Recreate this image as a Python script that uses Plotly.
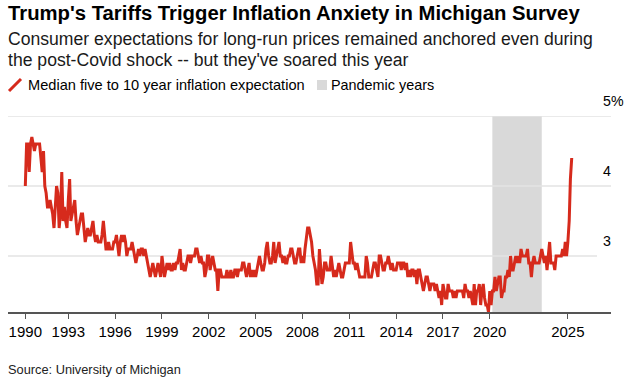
import pandas as pd
import plotly.graph_objects as go

# ---------------- data ----------------
start_month = "1990-04-01"
values_by_year = [
    [4.0, 4.6, 4.6, 4.2, 4.6, 4.7, 4.6, 4.5, 4.6],                      # 1990 (Apr-Dec)
    [4.6, 4.6, 4.6, 4.4, 4.2, 4.5, 4.0, 3.9, 3.7, 3.7, 3.8, 3.7],       # 1991
    [3.6, 3.4, 3.7, 4.0, 3.9, 3.4, 3.6, 4.2, 3.5, 3.7, 3.5, 3.4],       # 1992
    [3.8, 4.1, 3.5, 3.6, 3.7, 3.8, 3.5, 3.3, 3.4, 3.5, 3.6, 3.6],       # 1993
    [3.4, 3.2, 3.3, 3.4, 3.3, 3.3, 3.4, 3.5, 3.3, 3.2, 3.3, 3.2],       # 1994
    [3.2, 3.2, 3.3, 3.5, 3.3, 3.1, 3.1, 3.2, 3.1, 3.1, 3.1, 3.2],       # 1995
    [3.2, 3.3, 3.1, 3.0, 3.2, 3.3, 3.2, 3.3, 3.2, 3.0, 3.1, 3.1],       # 1996
    [3.1, 3.2, 3.1, 3.0, 2.9, 3.0, 3.1, 3.0, 3.1, 3.1, 3.0, 3.1],       # 1997
    [3.0, 2.9, 2.8, 2.7, 2.8, 2.9, 2.8, 2.7, 2.8, 2.9, 2.8, 2.7],       # 1998
    [3.0, 2.8, 2.7, 2.8, 2.9, 2.8, 2.9, 2.8, 2.8, 2.9, 2.8, 2.9],       # 1999
    [2.9, 3.0, 3.1, 2.8, 2.9, 2.8, 2.8, 2.9, 3.0, 3.0, 2.9, 3.0],       # 2000
    [3.0, 3.0, 3.1, 3.1, 3.0, 2.9, 3.0, 2.9, 2.9, 2.7, 2.8, 3.0],       # 2001
    [3.0, 2.8, 2.9, 3.0, 2.9, 2.8, 2.8, 2.5, 2.8, 2.8, 2.7, 2.7],       # 2002
    [2.7, 2.7, 2.8, 2.7, 2.7, 2.8, 2.7, 2.7, 2.8, 2.8, 2.7, 2.8],       # 2003
    [2.8, 2.8, 2.9, 2.9, 2.8, 2.7, 2.8, 2.9, 2.7, 2.8, 2.7, 2.8],       # 2004
    [2.7, 2.8, 2.9, 3.0, 2.9, 2.8, 2.8, 2.9, 3.1, 3.2, 3.0, 2.9],       # 2005
    [2.9, 3.0, 3.2, 2.9, 3.0, 3.1, 3.2, 3.0, 3.0, 2.9, 3.0, 2.9],       # 2006
    [2.9, 3.0, 3.0, 3.1, 3.1, 3.0, 2.9, 2.9, 3.0, 3.1, 3.1, 2.9],       # 2007
    [3.0, 2.9, 3.1, 3.3, 3.4, 3.4, 3.3, 3.2, 3.0, 2.9, 2.8, 2.6],       # 2008
    [2.6, 3.1, 2.9, 2.6, 2.7, 2.9, 2.9, 2.8, 2.8, 2.8, 3.0, 2.8],       # 2009
    [2.7, 2.8, 2.7, 2.8, 2.9, 2.8, 2.7, 2.7, 2.8, 2.9, 2.9, 2.9],       # 2010
    [2.9, 3.2, 3.0, 2.9, 2.9, 2.8, 2.9, 2.8, 2.7, 2.7, 2.7, 2.7],       # 2011
    [2.7, 3.0, 2.9, 2.7, 2.7, 2.7, 2.8, 2.9, 2.9, 2.8, 2.7, 3.0],       # 2012
    [3.0, 2.9, 2.8, 2.8, 2.9, 2.9, 3.0, 2.9, 2.8, 2.9, 2.8, 2.8],       # 2013
    [2.8, 2.9, 2.9, 2.9, 2.8, 2.9, 2.9, 2.8, 2.9, 2.7, 2.8, 2.7],       # 2014
    [2.8, 2.8, 2.7, 2.8, 2.6, 2.8, 2.8, 2.7, 2.6, 2.5, 2.6, 2.7],       # 2015
    [2.7, 2.6, 2.5, 2.6, 2.6, 2.6, 2.5, 2.6, 2.5, 2.4, 2.5, 2.3],       # 2016
    [2.6, 2.5, 2.4, 2.4, 2.6, 2.5, 2.5, 2.5, 2.4, 2.5, 2.4, 2.5],       # 2017
    [2.5, 2.5, 2.5, 2.5, 2.4, 2.6, 2.5, 2.5, 2.4, 2.5, 2.4, 2.3],       # 2018
    [2.6, 2.3, 2.5, 2.5, 2.6, 2.3, 2.5, 2.6, 2.4, 2.3, 2.3, 2.2],       # 2019
    [2.5, 2.3, 2.5, 2.5, 2.7, 2.5, 2.6, 2.7, 2.7, 2.4, 2.5, 2.5],       # 2020
    [2.7, 2.7, 2.8, 2.7, 3.0, 2.8, 2.8, 2.9, 3.0, 2.9, 3.0, 2.9],       # 2021
    [3.1, 3.0, 3.0, 3.0, 3.0, 3.1, 2.9, 2.9, 2.7, 2.9, 3.0, 2.9],       # 2022
    [2.9, 2.9, 2.9, 3.0, 3.1, 3.0, 2.9, 3.0, 2.8, 3.0, 3.2, 2.9],       # 2023
    [2.9, 2.9, 2.8, 3.0, 3.0, 3.0, 3.0, 3.0, 3.1, 3.0, 3.2, 3.0],       # 2024
    [3.2, 3.5, 4.1, 4.4],                                               # 2025 (Jan-Apr)
]
expectation = [v for year in values_by_year for v in year]
months = pd.date_range(start_month, periods=len(expectation), freq="MS")

pandemic_start = "2020-03-01"
pandemic_end = "2023-05-01"

tick_dates = ["1990-04-01", "1993-01-01", "1996-01-01", "1999-01-01", "2002-01-01",
              "2005-01-01", "2008-01-01", "2011-01-01", "2014-01-01", "2017-01-01",
              "2020-01-01", "2025-01-01"]
tick_labels = ["1990", "1993", "1996", "1999", "2002", "2005", "2008", "2011",
               "2014", "2017", "2020", "2025"]

y_ticks = [5, 4, 3]
y_tick_labels = ["5%", "4", "3"]

title = "Trump's Tariffs Trigger Inflation Anxiety in Michigan Survey"
subtitle_1 = "Consumer expectations for long-run prices remained anchored even during"
subtitle_2 = "the post-Covid shock -- but they've soared this year"
legend_line = "Median five to 10 year inflation expectation"
legend_shade = "Pandemic years"
source = "Source: University of Michigan"

# ---------------- layout helpers ----------------
W, H = 627, 382
L, R, T, B = 8, 611, 116, 312
RED = "#d62a1c"
FONT = "Liberation Sans, Arial, sans-serif"


def xp(px):
    return (px - L) / (R - L)


def yp(py):
    return (B - py) / (B - T)


fig = go.Figure()

fig.add_trace(go.Scatter(
    x=months, y=expectation, mode="lines",
    line=dict(color=RED, width=3), showlegend=False, hoverinfo="skip",
))

shapes = []
shapes.append(dict(type="rect", xref="x", yref="paper", x0=pandemic_start, x1=pandemic_end,
                   y0=0, y1=1, fillcolor="#d9d9d9", line=dict(width=0), layer="below"))
grid_ends = {5: 1.0, 4: 1.0, 3: xp(597)}
for v in y_ticks:
    shapes.append(dict(type="line", xref="paper", yref="y", x0=0, x1=grid_ends[v], y0=v, y1=v,
                       line=dict(color="#e3e3e3", width=1.5), layer="below"))
shapes.append(dict(type="line", xref="paper", yref="paper", x0=xp(9), x1=xp(21),
                   y0=yp(91), y1=yp(79), line=dict(color=RED, width=3)))
shapes.append(dict(type="rect", xref="paper", yref="paper", x0=xp(317), x1=xp(327),
                   y0=yp(90), y1=yp(80), fillcolor="#d9d9d9", line=dict(width=0)))

annotations = []


def txt(text, px, py, size, color="#000"):
    annotations.append(dict(text=text, xref="paper", yref="paper", x=xp(px), y=yp(py),
                            xanchor="left", yanchor="middle", showarrow=False,
                            font=dict(size=size, color=color, family=FONT)))


txt("<b>" + title + "</b>", 6, 13, 20.3)
txt(subtitle_1, 6, 39, 17.6, "#1a1a1a")
txt(subtitle_2, 6, 60, 17.6, "#1a1a1a")
txt(legend_line, 26, 85, 14.6)
txt(legend_shade, 329, 85, 14.4)
txt(source, 6, 369, 12.8, "#222")

for v, lab in zip(y_ticks, y_tick_labels):
    annotations.append(dict(text=lab, xref="paper", yref="y", x=xp(600.5), y=v,
                            xanchor="left", yanchor="bottom", yshift=5, showarrow=False,
                            font=dict(size=14.2, color="#000", family=FONT)))

fig.update_layout(
    width=W, height=H,
    margin=dict(l=L, r=W - R, t=T, b=H - B),
    paper_bgcolor="white", plot_bgcolor="white",
    font=dict(family=FONT, color="#000"),
    shapes=shapes, annotations=annotations,
    showlegend=False,
    xaxis=dict(
        type="date", range=["1989-02-20", "2027-10-07"],
        tickvals=tick_dates, ticktext=tick_labels,
        showgrid=False, zeroline=False,
        showline=True, linecolor="#555", linewidth=1.5,
        ticks="outside", ticklen=5, tickcolor="#555", tickwidth=1,
        tickfont=dict(size=15, color="#000", family=FONT),
        fixedrange=True,
    ),
    yaxis=dict(
        range=[2.2, 5], showgrid=False, zeroline=False, showticklabels=False,
        showline=False, fixedrange=True,
    ),
)

# remove the default page margin so the 627x382 figure fills the window exactly
fig.write_html("out.html", config={"displayModeBar": False},
               post_script="document.body.style.margin='0';")
